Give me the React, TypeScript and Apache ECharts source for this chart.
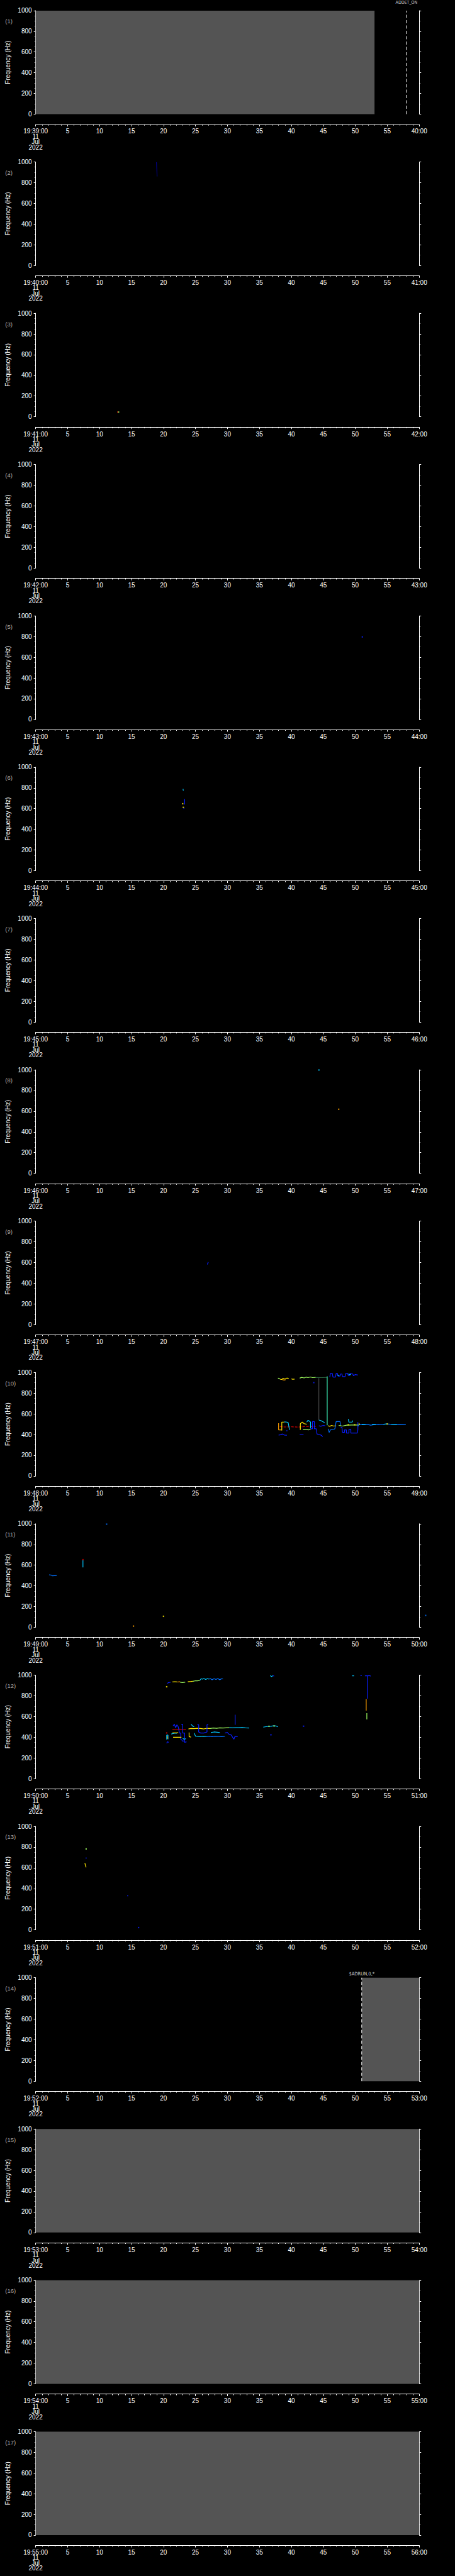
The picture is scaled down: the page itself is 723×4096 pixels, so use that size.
import React, { useEffect, useRef } from "react";
import * as echarts from "echarts";

type Pt = [number, number];

// ---------- layout (reference px, scaled by S) ----------
const S = 0.705;
const CHART_W = 723;
const CHART_H = 4096;
const PANEL_TOP_REF = 24;
const PANEL_STEP_REF = 341.27;
const PLOT_H_REF = 233.4;
const PLOT_LEFT_REF = 80.3;
const PLOT_W_REF = 864.7;
const XAXIS_GAP_REF = 23.1;

// ---------- axes ----------
const TIME_MIN = 0;
const TIME_MAX = 60;
const TIME_STEP = 5;
const FREQ_MIN = 0;
const FREQ_MAX = 1000;
const FREQ_STEP = 200;
const START_LABELS = [
  "19:39:00", "19:40:00", "19:41:00", "19:42:00", "19:43:00", "19:44:00",
  "19:45:00", "19:46:00", "19:47:00", "19:48:00", "19:49:00", "19:50:00",
  "19:51:00", "19:52:00", "19:53:00", "19:54:00", "19:55:00",
];
const END_LABELS = [
  "40:00", "41:00", "42:00", "43:00", "44:00", "45:00", "46:00", "47:00",
  "48:00", "49:00", "50:00", "51:00", "52:00", "53:00", "54:00", "55:00", "56:00",
];
const DATE_LINES = ["11", "Jul", "2022"];
const Y_NAME = "Frequency (Hz)";

// gray "no data" spans: [panel, fromSec, toSec]
const GRAY_SPANS: [number, number, number][] = [
  [1, 0, 53], [14, 51, 60], [15, 0, 60], [16, 0, 60], [17, 0, 60],
];
// event markers: [panel, sec, label]
const EVENT_MARKS: [number, number, string][] = [
  [1, 58, "ADDET_ON"],
  [14, 51, "$ADRUN,0,*"],
];

// ---------- colours (jet-like) ----------
const COL: Record<string, string> = {
  B: "#0a1eff", M: "#0070ff", C: "#00c8ff", A: "#40ffc0", G: "#a0ff60",
  Y: "#ffe800", O: "#ffa000", R: "#d00000", K: "#707070", D: "#3c8c5a", N: "#0000c8",
};
const GRAY_FILL = "#545454";

// ---------- data: panel 2 ----------
const P2_BLUE: Pt[] = [[18.9, 998], [18.95, 930], [19.0, 860]];
// ---------- panel 3 ----------
const P3_DOT_RED: Pt[] = [[12.85, 45]];
const P3_DOT_GREEN: Pt[] = [[12.97, 45]];
// ---------- panel 5 ----------
const P5_DOT_BLUE: Pt[] = [[51.1, 797]];
// ---------- panel 6 ----------
const P6_CYAN: Pt[] = [[23.05, 790], [23.1, 773]];
const P6_BLUE: Pt[] = [[23.3, 692], [23.3, 640]];
const P6_BLUE_B: Pt[] = [[23.15, 611], [23.2, 598]];
const P6_DOTS_YELLOW: Pt[] = [[23.0, 647], [23.1, 612]];
// ---------- panel 8 ----------
const P8_DOT_CYAN: Pt[] = [[44.3, 998]];
const P8_DOT_ORANGE: Pt[] = [[47.4, 619]];
// ---------- panel 9 ----------
const P9_BLUE: Pt[] = [[26.85, 581], [27.0, 604]];

// ---------- panel 10 ----------
const P10_UP_GREEN_A: Pt[] = [[37.9, 945], [38.2, 940]];
const P10_UP_YELLOW_A: Pt[] = [[38.2, 935], [38.5, 932], [38.7, 942], [39.0, 936], [39.3, 946], [39.6, 938]];
const P10_UP_ORANGE: Pt[] = [[38.6, 930], [38.9, 926], [39.1, 930]];
const P10_UP_YELLOW_B: Pt[] = [[40.0, 938], [40.2, 934], [40.5, 936]];
const P10_UP_GREEN_B: Pt[] = [[41.3, 945], [41.6, 952], [42.0, 947], [42.3, 955], [42.6, 950], [43.0, 956], [43.3, 950], [43.8, 952]];
const P10_UP_DIM: Pt[] = [[43.8, 951], [44.8, 950], [45.6, 952]];
const P10_UP_BLUE: Pt[] = [
  [46.0, 955], [46.1, 990], [46.4, 990], [46.5, 955], [46.9, 955], [47.0, 990], [47.2, 990],
  [47.3, 965], [47.6, 965], [47.7, 985], [47.9, 985], [48.0, 960], [48.4, 960], [48.5, 990],
  [48.8, 990], [48.9, 970], [49.1, 970], [49.2, 990], [49.6, 985], [49.7, 968], [50.0, 980], [50.4, 975],
];
const P10_UP_CYAN_A: Pt[] = [[47.2, 975], [47.5, 968]];
const P10_UP_CYAN_B: Pt[] = [[48.9, 985], [49.3, 978]];
const P10_DOT_BLUE: Pt[] = [[43.5, 902]];
const P10_V_GRAY: Pt[] = [[44.3, 945], [44.3, 540]];
const P10_V_AQUA: Pt[] = [[45.6, 962], [45.6, 490]];
const P10_RED: Pt[] = [[38.2, 477], [39.0, 473], [40.0, 475], [41.0, 472], [42.0, 477], [43.0, 478], [43.8, 476]];
const P10_LO_ORANGE: Pt[] = [[38.0, 510], [38.0, 445], [38.4, 445], [38.4, 440]];
const P10_LO_YELLOW_A: Pt[] = [[38.5, 440], [38.5, 520], [38.9, 520]];
const P10_LO_CYAN_A: Pt[] = [[38.9, 522], [39.3, 520], [39.5, 515], [39.7, 445]];
const P10_LO_BLUE_A: Pt[] = [[38.0, 395], [38.3, 398], [38.6, 405], [38.9, 395], [39.3, 393]];
const P10_LO_BLUE_B: Pt[] = [[39.3, 430], [39.3, 442]];
const P10_LO_YELLOW_B: Pt[] = [[41.4, 445], [41.4, 505], [41.7, 520], [42.0, 505], [42.4, 500]];
const P10_LO_GREEN_A: Pt[] = [[41.8, 450], [42.4, 450], [42.6, 445], [43.0, 448]];
const P10_LO_BLUE_C: Pt[] = [[41.3, 400], [41.9, 400]];
const P10_LO_CYAN_B: Pt[] = [[42.4, 520], [42.6, 537], [42.8, 530], [43.0, 520], [43.0, 460]];
const P10_LO_BLUE_D: Pt[] = [
  [43.0, 455], [43.3, 455], [43.3, 525], [43.6, 525], [43.6, 455], [43.9, 455],
  [44.0, 405], [44.4, 400], [44.6, 395], [44.9, 380],
];
const P10_LO_CYAN_C: Pt[] = [[44.3, 540], [44.6, 535], [44.9, 525], [45.2, 515]];
const P10_LO_BLUE_E: Pt[] = [[44.3, 485], [44.6, 480], [44.8, 485], [45.0, 488], [45.3, 485]];
const P10_LO_YELLOW_C: Pt[] = [[45.7, 485], [46.0, 480], [46.3, 488], [46.6, 482], [47.0, 485]];
const P10_LO_BLUE_F: Pt[] = [[45.8, 455], [45.9, 420], [46.1, 445], [46.6, 450], [46.8, 455], [47.0, 525], [47.6, 525], [47.7, 485]];
const P10_LO_BLUE_G: Pt[] = [
  [47.7, 470], [47.9, 470], [48.0, 420], [48.3, 420], [48.3, 445], [48.6, 445], [48.6, 415],
  [49.0, 415], [49.0, 450], [49.3, 450], [49.3, 415], [50.3, 415], [50.4, 445], [50.4, 520],
];
const P10_LO_CYAN_D: Pt[] = [[48.9, 550], [49.0, 520], [49.5, 520], [49.6, 535]];
const P10_LO_GREEN_B: Pt[] = [[47.4, 488], [48.0, 482], [48.6, 490], [49.4, 492], [50.4, 492]];
const P10_LO_DOTS_YELLOW: Pt[] = [[48.9, 495], [49.9, 495], [50.6, 500], [55.0, 502]];
const P10_TAIL_BLUE: Pt[] = [
  [50.4, 480], [50.6, 498], [51.2, 495], [51.8, 500], [52.4, 490], [53.0, 496], [53.6, 500],
  [54.2, 497], [54.8, 502], [55.5, 500], [56.2, 498], [57.0, 500], [57.9, 498],
];
const P10_TAIL_CYAN_A: Pt[] = [[51.0, 500], [51.6, 497]];
const P10_TAIL_CYAN_B: Pt[] = [[52.6, 498], [53.2, 500]];
const P10_TAIL_CYAN_C: Pt[] = [[54.4, 500], [55.0, 503]];
const P10_TAIL_CYAN_D: Pt[] = [[55.6, 500], [56.5, 500]];

// ---------- panel 11 ----------
const P11_BLUE: Pt[] = [[2.1, 507], [2.5, 503], [2.6, 497], [3.3, 500]];
const P11_CYAN_V: Pt[] = [[7.4, 579], [7.4, 650]];
const P11_DOT_RED: Pt[] = [[7.4, 653]];
const P11_DOT_YELLOW: Pt[] = [[20.0, 106]];
const P11_DOT_ORANGE: Pt[] = [[15.3, 11]];
const P11_DOTS_BLUE: Pt[] = [[11.1, 996]];
const P11_DOT_OUTSIDE: Pt[] = [[61.0, 114]];

// ---------- panel 12 ----------
const P12_UP_BLUE_A: Pt[] = [[20.6, 920], [20.8, 928], [21.1, 930]];
const P12_DOT_YELLOW_A: Pt[] = [[20.5, 887]];
const P12_UP_YELLOW_A: Pt[] = [[21.4, 934], [21.8, 936], [22.1, 934]];
const P12_UP_ORANGE: Pt[] = [[22.1, 933], [22.6, 935]];
const P12_UP_GREEN_A: Pt[] = [[22.6, 931], [23.0, 928], [23.4, 932]];
const P12_UP_YELLOW_B: Pt[] = [[23.8, 935], [24.3, 938], [24.6, 940]];
const P12_UP_GREEN_B: Pt[] = [[24.6, 940], [25.0, 945], [25.3, 944], [25.7, 950]];
const P12_UP_CYAN: Pt[] = [[25.7, 950], [25.9, 965], [26.1, 960], [26.3, 966], [26.6, 958], [26.9, 966], [27.1, 960]];
const P12_UP_BLUE_B: Pt[] = [[27.1, 960], [27.3, 966], [27.6, 955], [27.9, 965], [28.2, 958], [28.5, 966], [28.8, 955], [29.1, 965], [29.3, 962]];
const P12_TOP_CYAN_A: Pt[] = [[36.7, 995], [36.9, 985], [37.1, 995]];
const P12_TOP_BLUE_A: Pt[] = [[37.1, 995], [37.3, 990]];
const P12_TOP_CYAN_B: Pt[] = [[49.5, 993], [49.8, 993]];
const P12_TOP_BLUE_B: Pt[] = [[50.8, 995], [51.0, 995]];
const P12_TOP_BLUE_C: Pt[] = [[51.5, 993], [51.9, 993], [52.2, 995], [52.4, 990]];
const P12_V_BLUE: Pt[] = [[51.9, 995], [51.9, 772]];
const P12_V_ORANGE: Pt[] = [[51.7, 768], [51.7, 656]];
const P12_V_GREEN: Pt[] = [[51.8, 632], [51.8, 572]];
const P12_LO_RED: Pt[] = [[21.4, 477], [22.0, 474], [22.5, 478], [23.0, 474], [23.5, 476]];
const P12_DOT_RED: Pt[] = [[20.5, 441]];
const P12_LO_YELLOW_A: Pt[] = [[23.9, 480], [24.3, 484], [24.8, 482], [25.3, 486], [25.8, 484], [26.3, 480], [26.8, 486], [27.3, 484]];
const P12_LO_GREEN_A: Pt[] = [[27.3, 484], [27.8, 488], [28.3, 486], [28.8, 490], [29.3, 488], [29.8, 490], [30.3, 491]];
const P12_LO_CYAN_A: Pt[] = [[30.3, 491], [30.8, 490], [31.3, 491], [31.8, 491], [32.3, 493], [32.8, 490], [33.4, 488]];
const P12_LO_CYAN_BOX: Pt[] = [[20.5, 377], [20.5, 420], [20.7, 420], [20.7, 380]];
const P12_LO_ORANGE: Pt[] = [[20.6, 410], [20.6, 385]];
const P12_LO_BLUE_A: Pt[] = [[20.5, 340], [20.6, 355], [20.8, 350]];
const P12_LO_BLUE_B: Pt[] = [
  [21.5, 510], [21.7, 525], [21.9, 490], [22.1, 520], [22.3, 500], [22.5, 440],
  [22.7, 440], [22.7, 380], [22.9, 370], [23.0, 360], [23.2, 365],
];
const P12_LO_CYAN_B: Pt[] = [[21.2, 430], [21.5, 435], [21.8, 440], [22.1, 438]];
const P12_LO_YELLOW_B: Pt[] = [[21.4, 441], [22.0, 441], [22.3, 443]];
const P12_LO_YELLOW_C: Pt[] = [[21.5, 399], [22.5, 399], [22.8, 399]];
const P12_LO_BLUE_C: Pt[] = [[22.8, 520], [23.0, 525], [23.0, 440], [23.3, 440], [23.3, 350], [23.6, 355]];
const P12_LO_CYAN_C: Pt[] = [[23.0, 390], [23.2, 380], [23.5, 385]];
const P12_LO_YELLOW_D: Pt[] = [[24.0, 445], [24.0, 405], [24.3, 400]];
const P12_LO_CYAN_D: Pt[] = [[24.3, 525], [24.6, 505], [24.8, 500]];
const P12_LO_CYAN_E: Pt[] = [[24.8, 440], [25.0, 410], [25.4, 408], [25.8, 406], [26.2, 410], [26.7, 408]];
const P12_LO_BLUE_D: Pt[] = [[25.3, 520], [25.5, 520], [25.5, 450], [25.8, 440], [26.3, 440], [26.8, 450], [26.8, 520], [27.0, 525]];
const P12_LO_BLUE_E: Pt[] = [[26.7, 405], [27.2, 410], [27.6, 405], [28.0, 410], [28.6, 408], [29.1, 405], [29.6, 410]];
const P12_LO_CYAN_F: Pt[] = [[27.4, 445], [27.9, 450], [28.4, 448], [28.8, 445]];
const P12_LO_BLUE_F: Pt[] = [[29.6, 440], [30.0, 445], [30.2, 430], [30.6, 420], [30.8, 400], [31.0, 380], [31.2, 410], [31.6, 405]];
const P12_V_BLUE_B: Pt[] = [[31.2, 617], [31.2, 520]];
const P12_MID_CYAN: Pt[] = [[35.6, 497], [36.2, 503], [36.8, 505], [37.2, 510], [37.6, 508], [37.9, 500]];
const P12_MID_DOTS_GREEN: Pt[] = [[36.5, 505], [37.3, 508]];
const P12_MID_DOTS_BLUE: Pt[] = [[36.8, 423], [41.9, 506]];

// ---------- panel 13 ----------
const P13_DOT_GREEN: Pt[] = [[7.9, 782]];
const P13_BLUE_A: Pt[] = [[7.9, 700], [7.9, 687]];
const P13_YELLOW: Pt[] = [[7.7, 646], [7.8, 620], [7.9, 604]];
const P13_BLUE_B: Pt[] = [[14.4, 325], [14.4, 337]];
const P13_DOT_BLUE: Pt[] = [[16.1, 22]];

// [panel, colourKey, kind, points]
type Track = [number, string, "line" | "dot" | "thin" | "dash" | "free", Pt[]];
const TRACKS: Track[] = [
  [2, "N", "thin", P2_BLUE],
  [3, "R", "dot", P3_DOT_RED], [3, "G", "dot", P3_DOT_GREEN],
  [5, "B", "dot", P5_DOT_BLUE],
  [6, "C", "line", P6_CYAN], [6, "B", "line", P6_BLUE], [6, "B", "line", P6_BLUE_B], [6, "Y", "dot", P6_DOTS_YELLOW],
  [8, "C", "dot", P8_DOT_CYAN], [8, "O", "dot", P8_DOT_ORANGE],
  [9, "B", "line", P9_BLUE],
  [10, "G", "line", P10_UP_GREEN_A], [10, "Y", "line", P10_UP_YELLOW_A], [10, "O", "line", P10_UP_ORANGE],
  [10, "Y", "line", P10_UP_YELLOW_B], [10, "G", "line", P10_UP_GREEN_B], [10, "D", "thin", P10_UP_DIM],
  [10, "B", "line", P10_UP_BLUE], [10, "C", "line", P10_UP_CYAN_A], [10, "C", "line", P10_UP_CYAN_B],
  [10, "B", "dot", P10_DOT_BLUE], [10, "K", "thin", P10_V_GRAY], [10, "A", "line", P10_V_AQUA],
  [10, "R", "dash", P10_RED], [10, "O", "line", P10_LO_ORANGE], [10, "Y", "line", P10_LO_YELLOW_A],
  [10, "C", "line", P10_LO_CYAN_A], [10, "B", "line", P10_LO_BLUE_A], [10, "B", "line", P10_LO_BLUE_B],
  [10, "Y", "line", P10_LO_YELLOW_B], [10, "G", "line", P10_LO_GREEN_A], [10, "B", "line", P10_LO_BLUE_C],
  [10, "C", "line", P10_LO_CYAN_B], [10, "B", "line", P10_LO_BLUE_D], [10, "C", "line", P10_LO_CYAN_C],
  [10, "B", "line", P10_LO_BLUE_E], [10, "Y", "line", P10_LO_YELLOW_C], [10, "M", "line", P10_LO_BLUE_F],
  [10, "B", "line", P10_LO_BLUE_G], [10, "C", "line", P10_LO_CYAN_D], [10, "G", "line", P10_LO_GREEN_B],
  [10, "Y", "dot", P10_LO_DOTS_YELLOW], [10, "M", "line", P10_TAIL_BLUE], [10, "C", "line", P10_TAIL_CYAN_A],
  [10, "C", "line", P10_TAIL_CYAN_B], [10, "C", "line", P10_TAIL_CYAN_C], [10, "C", "line", P10_TAIL_CYAN_D],
  [11, "M", "line", P11_BLUE], [11, "C", "line", P11_CYAN_V], [11, "R", "dot", P11_DOT_RED],
  [11, "Y", "dot", P11_DOT_YELLOW], [11, "O", "dot", P11_DOT_ORANGE], [11, "M", "dot", P11_DOTS_BLUE],
  [11, "M", "free", P11_DOT_OUTSIDE],
  [12, "B", "line", P12_UP_BLUE_A], [12, "Y", "dot", P12_DOT_YELLOW_A], [12, "Y", "line", P12_UP_YELLOW_A],
  [12, "O", "line", P12_UP_ORANGE], [12, "G", "line", P12_UP_GREEN_A], [12, "Y", "line", P12_UP_YELLOW_B],
  [12, "G", "line", P12_UP_GREEN_B], [12, "C", "line", P12_UP_CYAN], [12, "M", "line", P12_UP_BLUE_B],
  [12, "C", "line", P12_TOP_CYAN_A], [12, "B", "line", P12_TOP_BLUE_A], [12, "C", "line", P12_TOP_CYAN_B],
  [12, "B", "line", P12_TOP_BLUE_B], [12, "B", "line", P12_TOP_BLUE_C], [12, "B", "line", P12_V_BLUE],
  [12, "O", "line", P12_V_ORANGE], [12, "G", "line", P12_V_GREEN],
  [12, "R", "line", P12_LO_RED], [12, "R", "dot", P12_DOT_RED], [12, "Y", "line", P12_LO_YELLOW_A],
  [12, "G", "line", P12_LO_GREEN_A], [12, "C", "line", P12_LO_CYAN_A], [12, "C", "line", P12_LO_CYAN_BOX],
  [12, "O", "line", P12_LO_ORANGE], [12, "B", "line", P12_LO_BLUE_A], [12, "B", "line", P12_LO_BLUE_B],
  [12, "C", "line", P12_LO_CYAN_B], [12, "Y", "line", P12_LO_YELLOW_B], [12, "Y", "line", P12_LO_YELLOW_C],
  [12, "B", "line", P12_LO_BLUE_C], [12, "C", "line", P12_LO_CYAN_C], [12, "Y", "line", P12_LO_YELLOW_D],
  [12, "C", "line", P12_LO_CYAN_D], [12, "C", "line", P12_LO_CYAN_E], [12, "B", "line", P12_LO_BLUE_D],
  [12, "M", "line", P12_LO_BLUE_E], [12, "C", "line", P12_LO_CYAN_F], [12, "B", "line", P12_LO_BLUE_F],
  [12, "B", "line", P12_V_BLUE_B], [12, "C", "line", P12_MID_CYAN], [12, "G", "dot", P12_MID_DOTS_GREEN],
  [12, "B", "dot", P12_MID_DOTS_BLUE],
  [13, "G", "dot", P13_DOT_GREEN], [13, "B", "line", P13_BLUE_A], [13, "Y", "line", P13_YELLOW],
  [13, "B", "line", P13_BLUE_B], [13, "B", "dot", P13_DOT_BLUE],
];

const FONT = "'Liberation Sans', Arial, sans-serif";
const WHITE = "#ffffff";

function buildOption(): any {
  const grid: any[] = [];
  const xAxis: any[] = [];
  const yAxis: any[] = [];
  const series: any[] = [];
  const graphic: any[] = [];
  const panels = START_LABELS.length;

  for (let i = 0; i < panels; i++) {
    const top = (PANEL_TOP_REF + i * PANEL_STEP_REF) * S;
    grid.push({
      left: PLOT_LEFT_REF * S,
      top,
      width: PLOT_W_REF * S,
      height: PLOT_H_REF * S,
      containLabel: false,
      outerBoundsMode: "none",
    });
    const start = START_LABELS[i];
    const end = END_LABELS[i];
    xAxis.push({
      gridIndex: i,
      type: "value",
      position: "bottom",
      min: TIME_MIN,
      max: TIME_MAX,
      interval: TIME_STEP,
      offset: XAXIS_GAP_REF * S,
      axisLine: { show: true, onZero: false, lineStyle: { color: WHITE, width: 1 } },
      axisTick: { show: true, inside: false, length: 3.3, lineStyle: { color: WHITE, width: 1 } },
      minorTick: { show: true, splitNumber: 5, length: 1.9, lineStyle: { color: WHITE, width: 1 } },
      splitLine: { show: false },
      minorSplitLine: { show: false },
      axisLabel: {
        show: true,
        color: WHITE,
        fontSize: 10,
        fontFamily: FONT,
        margin: 7,
        lineHeight: 8.4,
        hideOverlap: false,
        formatter: (v: number) => {
          if (v === TIME_MIN) return [start, ...DATE_LINES].join("\n");
          if (v === TIME_MAX) return end;
          return String(v);
        },
      },
    });
    yAxis.push({
      gridIndex: i,
      type: "value",
      position: "left",
      min: FREQ_MIN,
      max: FREQ_MAX,
      interval: FREQ_STEP,
      axisLine: { show: true, onZero: false, lineStyle: { color: WHITE, width: 1 } },
      axisTick: { show: true, inside: false, length: 3, lineStyle: { color: WHITE, width: 1 } },
      minorTick: { show: true, splitNumber: 4, length: 1.6, lineStyle: { color: WHITE, width: 1 } },
      splitLine: { show: false },
      minorSplitLine: { show: false },
      axisLabel: {
        show: true, color: WHITE, fontSize: 10, fontFamily: FONT, margin: 6, hideOverlap: false,
        formatter: (v: number) => String(v),
      },
      name: Y_NAME,
      nameLocation: "middle",
      nameGap: 35,
      nameTextStyle: { color: WHITE, fontSize: 10, fontFamily: FONT },
    });
    yAxis.push({
      gridIndex: i,
      type: "value",
      position: "right",
      min: FREQ_MIN,
      max: FREQ_MAX,
      interval: FREQ_STEP,
      axisLine: { show: true, onZero: false, lineStyle: { color: WHITE, width: 1 } },
      axisTick: { show: true, inside: false, length: 3, lineStyle: { color: WHITE, width: 1 } },
      minorTick: { show: true, splitNumber: 2, length: 1.6, lineStyle: { color: WHITE, width: 1 } },
      splitLine: { show: false },
      minorSplitLine: { show: false },
      axisLabel: { show: false },
    });
    graphic.push({
      type: "text",
      x: 8.3,
      y: top + 16.9,
      silent: true,
      style: {
        text: `(${i + 1})`,
        fill: "#a8a8a8",
        fontSize: 9.5,
        fontFamily: FONT,
        textAlign: "left",
        textVerticalAlign: "middle",
        verticalAlign: "middle",
      },
    });
  }

  // gray "no data" blocks
  GRAY_SPANS.forEach(([p, a, b]) => {
    series.push({
      type: "custom",
      xAxisIndex: p - 1,
      yAxisIndex: 2 * (p - 1),
      silent: true,
      z: 1,
      data: [[a, b]],
      renderItem: (_params: any, api: any) => {
        const p0 = api.coord([api.value(0), FREQ_MAX]);
        const p1 = api.coord([api.value(1), FREQ_MIN]);
        return {
          type: "rect",
          shape: { x: p0[0], y: p0[1], width: p1[0] - p0[0], height: p1[1] - p0[1] },
          style: { fill: GRAY_FILL },
        };
      },
    });
  });

  // event markers: dashed vertical line + label
  EVENT_MARKS.forEach(([p, sec, label]) => {
    series.push({
      type: "line",
      xAxisIndex: p - 1,
      yAxisIndex: 2 * (p - 1),
      silent: true,
      z: 4,
      showSymbol: false,
      symbol: "none",
      data: [[sec, FREQ_MIN], [sec, FREQ_MAX]],
      lineStyle: { color: WHITE, width: 1, type: [5, 3.5] },
    });
    const isFirst = p === 1;
    series.push({
      type: "scatter",
      xAxisIndex: p - 1,
      yAxisIndex: 2 * (p - 1),
      silent: true,
      clip: false,
      z: 4,
      symbol: "rect",
      symbolSize: 1,
      itemStyle: { color: "rgba(0,0,0,0)" },
      data: [[sec, FREQ_MAX]],
      label: {
        show: true,
        position: "top",
        distance: isFirst ? 8 : 1.5,
        formatter: label,
        color: WHITE,
        fontSize: isFirst ? 7 : 7.5,
        lineHeight: 8,
        fontFamily: "'Liberation Sans Narrow', 'DejaVu Sans Condensed', " + FONT,
      },
    });
  });

  // tracks
  TRACKS.forEach(([p, c, kind, pts]) => {
    const color = COL[c];
    const base = { xAxisIndex: p - 1, yAxisIndex: 2 * (p - 1), silent: true, z: 5 };
    if (kind === "dot" || kind === "free") {
      series.push({
        ...base,
        type: "scatter",
        symbol: "rect",
        symbolSize: 2.2,
        clip: kind !== "free",
        itemStyle: { color },
        data: pts,
      });
    } else {
      series.push({
        ...base,
        type: "line",
        showSymbol: false,
        symbol: "none",
        data: pts,
        lineStyle: {
          color,
          width: kind === "thin" ? 0.8 : 1.2,
          type: kind === "dash" ? [4, 2] : "solid",
        },
      });
    }
  });

  return {
    backgroundColor: "#000000",
    animation: false,
    tooltip: { show: false },
    grid,
    xAxis,
    yAxis,
    series,
    graphic,
  };
}

export default function App() {
  const ref = useRef<HTMLDivElement>(null);
  useEffect(() => {
    document.body.style.margin = "0";
    document.body.style.background = "#000";
    const chart = echarts.init(ref.current as HTMLDivElement, null, {
      renderer: "svg",
      width: CHART_W,
      height: CHART_H,
    });
    chart.setOption(buildOption());
    return () => {
      chart.dispose();
    };
  }, []);
  return (
    <div
      ref={ref}
      style={{ position: "absolute", left: 0, top: 0, width: CHART_W, height: CHART_H, background: "#000" }}
    />
  );
}
